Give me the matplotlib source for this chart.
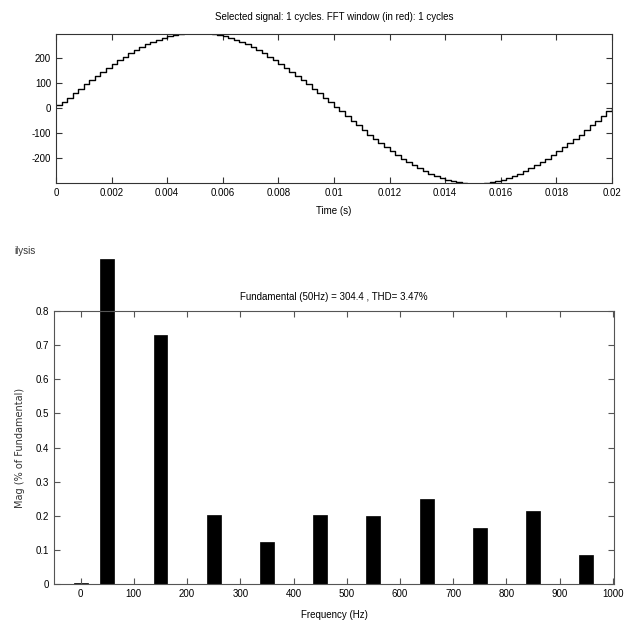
import matplotlib
matplotlib.use("Agg")
import matplotlib.pyplot as plt
import numpy as np

plt.rcParams['font.family'] = ['Liberation Sans Narrow', 'Liberation Sans', 'DejaVu Sans']
plt.rcParams['axes.unicode_minus'] = False

# selected signal, one step every 0.2 ms
t_step = 0.0002
signal = [12, 24, 42, 60, 78, 96, 113, 130, 147, 163, 178, 193, 207, 221, 233, 245,
          256, 266, 275, 283, 289, 294, 299, 302, 303, 304, 303, 302, 299, 294,
          289, 283, 275, 266, 256, 245, 233, 221, 207, 193, 178, 163, 147, 130,
          113, 96, 78, 60, 42, 24, 6, -12, -31, -50, -69, -88, -106, -123, -140,
          -156, -172, -188, -202, -216, -229, -241, -252, -262, -271, -280, -287,
          -292, -297, -301, -303, -304, -303, -301, -297, -292, -287, -280, -271,
          -262, -252, -241, -229, -216, -202, -188, -172, -156, -140, -123, -106,
          -88, -69, -50, -31, -12, 0]
time_ticks = [0, 0.002, 0.004, 0.006, 0.008, 0.01, 0.012, 0.014, 0.016, 0.018, 0.02]
time_labels = ['0', '0.002', '0.004', '0.006', '0.008', '0.01', '0.012', '0.014', '0.016', '0.018', '0.02']

# harmonic spectrum
freqs = [0, 50, 150, 250, 350, 450, 550, 650, 750, 850, 950]
mags = [0.003, 0.953, 0.730, 0.203, 0.124, 0.203, 0.200, 0.250, 0.163, 0.215, 0.086]
freq_ticks = [0, 100, 200, 300, 400, 500, 600, 700, 800, 900, 1000]
mag_ticks = [0, 0.1, 0.2, 0.3, 0.4, 0.5, 0.6, 0.7, 0.8]

fig = plt.figure(figsize=(6.31, 6.23), dpi=100)
fs = 7

# top: signal
ax1 = fig.add_axes([0.0887, 0.7063, 0.881, 0.2391])
t = np.arange(len(signal)) * t_step
ax1.step(t, signal, where='post', color='black', linewidth=1.0)
ax1.set_xlim(0, 0.02)
ax1.set_ylim(-300, 298)
ax1.set_xticks(time_ticks)
ax1.set_xticklabels(time_labels)
ax1.set_yticks([-200, -100, 0, 100, 200])
ax1.tick_params(direction='in', top=True, right=True, labelsize=fs, length=4, color='#333')
for s in ax1.spines.values():
    s.set_color('#333')
ax1.set_xlabel('Time (s)', fontsize=fs, labelpad=6)
ax1.set_title('Selected signal: 1 cycles. FFT window (in red): 1 cycles', fontsize=fs, pad=10)

# bottom: FFT
ax2 = fig.add_axes([0.0856, 0.0626, 0.8875, 0.4382])
bars = ax2.bar(freqs, mags, width=26, color='black', edgecolor='black', linewidth=0.5)
for b in bars:
    b.set_clip_on(False)
ax2.set_xlim(-50, 1002)
ax2.set_ylim(0, 0.8)
ax2.set_xticks(freq_ticks)
ax2.set_yticks(mag_ticks)
ax2.set_yticklabels(['0', '0.1', '0.2', '0.3', '0.4', '0.5', '0.6', '0.7', '0.8'])
ax2.tick_params(direction='in', top=True, right=True, labelsize=fs, length=4, color='#555')
for s in ax2.spines.values():
    s.set_color('#555')
ax2.set_xlabel('Frequency (Hz)', fontsize=fs, labelpad=8)
ax2.set_ylabel('Mag (% of Fundamental)', fontsize=fs, family='DejaVu Sans', color='#333', labelpad=8)
ax2.set_title('Fundamental (50Hz) = 304.4 , THD= 3.47%', fontsize=fs, pad=8)

fig.text(14 / 631, 1 - 251 / 623, 'ilysis', fontsize=fs, va='center', ha='left', color='#333')

fig.savefig('out.png', dpi=100)
